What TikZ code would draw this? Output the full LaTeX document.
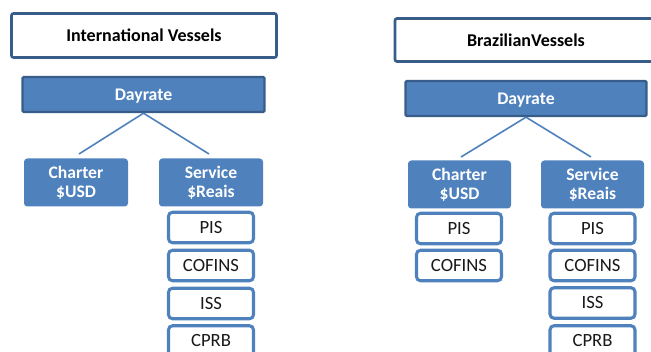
\documentclass[tikz,border=0pt]{standalone}
\usepackage{fontspec}
\setmainfont{Carlito}
\definecolor{accent}{HTML}{4F81BD}
\definecolor{accentdark}{HTML}{385D8A}
\begin{document}
\begin{tikzpicture}[x=0.75pt,y=-0.75pt,
  titlebox/.style={draw=accentdark,line width=2pt,fill=white,rounded corners=1.5pt,
    font=\fontsize{13.5}{15}\selectfont\bfseries,text=black,inner sep=0pt},
  daybox/.style={draw=accentdark,line width=1.8pt,fill=accent,rounded corners=1pt,
    font=\fontsize{13.3}{15}\selectfont\bfseries,text=white,inner sep=0pt,
    text depth=0pt,minimum height=35*0.75pt},
  catbox/.style={fill=accent,rounded corners=2.5pt,align=center,
    font=\fontsize{13.2}{14.3}\selectfont\bfseries,text=white,inner sep=0pt,
    minimum width=104*0.75pt,minimum height=48*0.75pt},
  taxbox/.style={draw=accent,line width=2.3pt,fill=white,rounded corners=3pt,
    font=\fontsize{14}{15}\selectfont,text=black!90,inner sep=0pt,
    minimum width=85*0.75pt,minimum height=30.5*0.75pt},
  link/.style={draw=accent,line width=1.2pt}]
\useasboundingbox (0,0) rectangle (651,352);
\clip (0,0) rectangle (651,352);
% left
\node[titlebox,minimum width=265*0.75pt,minimum height=44*0.75pt] (t1) at (144,35.5) {International Vessels};
\node[daybox,minimum width=242*0.75pt] (d1) at (143.5,94.5) {Dayrate};
\node[catbox] (c1) at (76,182.5) {Charter\\\$USD};
\node[catbox] (s1) at (211,182.5) {Service\\\$Reais};
\node[taxbox] (p1) at (211,227.5) {PIS};
\node[taxbox] (f1) at (211,265.5) {COFINS};
\node[taxbox] (i1) at (211,303.5) {ISS};
\node[taxbox] (r1) at (211,341) {CPRB};
\coordinate (c1t) at (79,154);
\coordinate (s1t) at (209,154);
\draw[link] (d1.south) -- (c1t);
\draw[link] (d1.south) -- (s1t);
% right
\node[titlebox,minimum width=262*0.75pt,minimum height=43*0.75pt] (t2) at (526,40) {BrazilianVessels};
\node[daybox,minimum width=241*0.75pt] (d2) at (526,98.5) {Dayrate};
\node[catbox,minimum width=103*0.75pt] (c2) at (459.5,184.5) {Charter\\\$USD};
\node[catbox,minimum width=103*0.75pt] (s2) at (592.5,184.5) {Service\\\$Reais};
\node[taxbox] (p2) at (459,228.5) {PIS};
\node[taxbox] (f2) at (459,265.5) {COFINS};
\node[taxbox] (p3) at (592.5,228.5) {PIS};
\node[taxbox] (f3) at (592.5,265.5) {COFINS};
\node[taxbox] (i3) at (592.5,303) {ISS};
\node[taxbox] (r3) at (592.5,341) {CPRB};
\coordinate (c2t) at (461,157);
\coordinate (s2t) at (591,157);
\draw[link] (d2.south) -- (c2t);
\draw[link] (d2.south) -- (s2t);
\end{tikzpicture}
\end{document}
